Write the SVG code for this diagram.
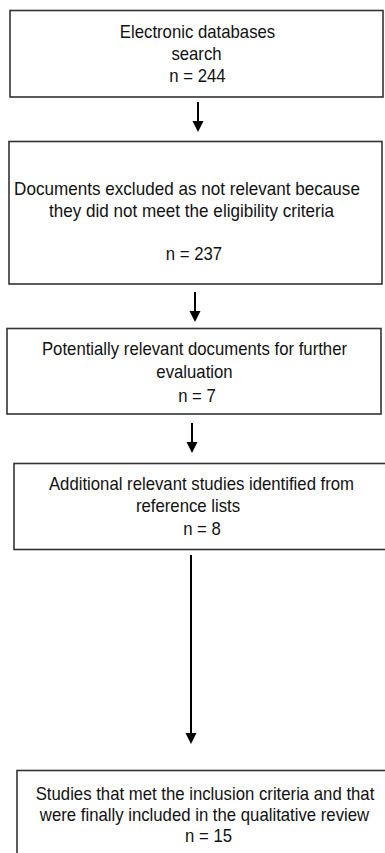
<svg xmlns="http://www.w3.org/2000/svg" width="385" height="853" viewBox="0 0 385 853">
<style>
.box{fill:#fff;stroke:#333;stroke-width:1.6}
.t{font-family:"Liberation Sans",Arial,sans-serif;font-size:18px;fill:#111;text-anchor:middle}
.c{stroke:#000;stroke-width:2;fill:none}
.h{fill:#000}
</style>
<rect width="385" height="853" fill="#fff"/>
<g id="n1">
<rect class="box" x="10" y="10.5" width="373" height="86.5"/>
<text class="t" transform="translate(197.5 37.5) scale(0.93 1)">Electronic databases</text>
<text class="t" transform="translate(196.5 59.5) scale(0.93 1)">search</text>
<text class="t" transform="translate(197.5 81.5) scale(0.93 1)">n = 244</text>
</g>
<g id="n2">
<rect class="box" x="9" y="141.5" width="373" height="142.5"/>
<text class="t" transform="translate(187 194.5) scale(0.95 1)">Documents excluded as not relevant because</text>
<text class="t" transform="translate(191.5 216.5) scale(0.95 1)">they did not meet the eligibility criteria</text>
<text class="t" transform="translate(194 260) scale(0.93 1)">n = 237</text>
</g>
<g id="n3">
<rect class="box" x="7" y="328.5" width="374" height="85.5"/>
<text class="t" transform="translate(194.5 355) scale(0.93 1)">Potentially relevant documents for further</text>
<text class="t" transform="translate(194.5 377.5) scale(0.93 1)">evaluation</text>
<text class="t" transform="translate(197 401.5) scale(0.93 1)">n = 7</text>
</g>
<g id="n4">
<rect class="box" x="14" y="463.5" width="380" height="86"/>
<text class="t" transform="translate(201.5 489.5) scale(0.93 1)">Additional relevant studies identified from</text>
<text class="t" transform="translate(188 511.5) scale(0.93 1)">reference lists</text>
<text class="t" transform="translate(202 535) scale(0.93 1)">n = 8</text>
</g>
<g id="n5">
<rect class="box" x="17" y="770.5" width="380" height="100"/>
<text class="t" transform="translate(205 799.5) scale(0.93 1)">Studies that met the inclusion criteria and that</text>
<text class="t" transform="translate(204.5 821) scale(0.93 1)">were finally included in the qualitative review</text>
<text class="t" transform="translate(208.5 841.5) scale(0.93 1)">n = 15</text>
</g>
<g id="connectors">
<line class="c" x1="198" y1="102" x2="198" y2="122"/>
<polygon class="h" points="192.5,121 203.5,121 198,132"/>
<line class="c" x1="195" y1="292" x2="195" y2="312"/>
<polygon class="h" points="189.5,311 200.5,311 195,322"/>
<line class="c" x1="192" y1="423" x2="192" y2="443"/>
<polygon class="h" points="186.5,442 197.5,442 192,453"/>
<line class="c" x1="191" y1="555" x2="191" y2="734"/>
<polygon class="h" points="185.5,733 196.5,733 191,744"/>
</g>
</svg>
